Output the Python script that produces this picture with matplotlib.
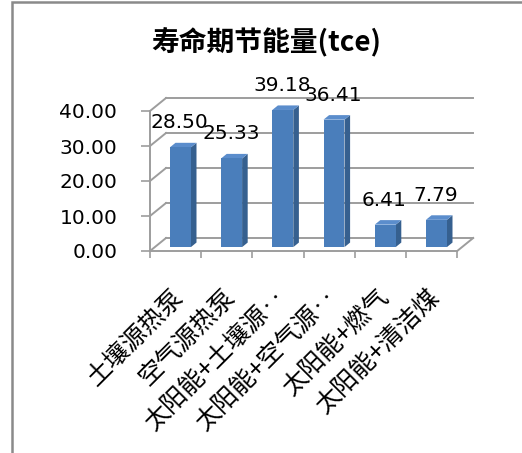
import matplotlib.pyplot as plt
from matplotlib.patches import Polygon, Rectangle

categories = ["土壤源热泵", "空气源热泵", "太阳能+土壤源‥", "太阳能+空气源‥",
              "太阳能+燃气", "太阳能+清洁煤"]
values = [28.50, 25.33, 39.18, 36.41, 6.41, 7.79]
yticks = [0, 10, 20, 30, 40]
title = "寿命期节能量(tce)"

CJK = ["Noto Sans CJK SC", "DejaVu Sans"]

W, H = 522, 453
# plot box in pixels: origin of the front floor edge, size of one category / one unit
X0, Y0 = 150, 251
CAT_PX, UNIT_PX = 51.2, 3.5
DX, DY = 16 / CAT_PX, 13 / UNIT_PX      # depth offset (front -> back wall) in data units
BAR_W = 0.41
D_FRONT, D_BACK = 0.30, 0.65            # bar depth span as a fraction of the floor depth

FRONT, SIDE, TOP = "#4A7EBB", "#36608F", "#5B8DCC"
GRID = "#9d9d9d"

fig = plt.figure(figsize=(W / 100, H / 100), dpi=100)
ax = fig.add_axes([X0 / W, (H - Y0) / H, 6.5 * CAT_PX / W, 46 * UNIT_PX / H])
ax.set_xlim(0, 6.5)
ax.set_ylim(0, 46)
ax.patch.set_visible(False)

# walls: diagonal lines on the side wall, gridlines on the back wall
n = len(categories)
for v in yticks:
    ax.plot([0, DX], [v, v + DY], color=GRID, lw=1.4, clip_on=False, zorder=1)
    ax.plot([DX, n + DX], [v + DY, v + DY], color=GRID, lw=1.4, clip_on=False, zorder=1)
ax.plot([n, n + DX], [0, DY], color=GRID, lw=1.4, clip_on=False, zorder=1)

for s in ["top", "right"]:
    ax.spines[s].set_visible(False)
ax.spines["left"].set_bounds(0, yticks[-1])
ax.spines["bottom"].set_bounds(0, n)
for s in ["left", "bottom"]:
    ax.spines[s].set_color(GRID)
    ax.spines[s].set_linewidth(1.4)

ax.set_yticks(yticks)
ax.set_yticklabels([f"{v:.2f}" for v in yticks])
ax.tick_params(axis="y", length=6.5, width=1.2, color=GRID, pad=17,
               labelsize=14.5, labelcolor="black")
ax.set_xticks(range(n + 1))
ax.set_xticklabels([])
ax.tick_params(axis="x", length=5, width=1.2, color=GRID)

# 3D-looking columns
ddx = (D_BACK - D_FRONT) * DX
ddy = (D_BACK - D_FRONT) * DY
for i, v in enumerate(values):
    x0 = i + 0.5 - BAR_W / 2 + D_FRONT * DX
    x1 = x0 + BAR_W
    yb = D_FRONT * DY
    yt = v + D_FRONT * DY
    ax.add_patch(Polygon([(x1, yb), (x1 + ddx, yb + ddy), (x1 + ddx, yt + ddy), (x1, yt)],
                         closed=True, facecolor=SIDE, edgecolor="none", zorder=3, clip_on=False))
    ax.add_patch(Polygon([(x0, yt), (x1, yt), (x1 + ddx, yt + ddy), (x0 + ddx, yt + ddy)],
                         closed=True, facecolor=TOP, edgecolor="none", zorder=3, clip_on=False))
    ax.add_patch(Rectangle((x0, yb), BAR_W, v, facecolor=FRONT, edgecolor="none",
                           zorder=3, clip_on=False))

for i, v in enumerate(values):
    ax.annotate(f"{v:.2f}", (i + 0.5 + 0.25 * DX, v + D_BACK * DY), xytext=(0, 20),
                textcoords="offset pixels", ha="center", va="center",
                fontsize=14.5, zorder=5, annotation_clip=False)

for i, c in enumerate(categories):
    ax.annotate(c, (i + 0.5, 0), xytext=(4, -42), textcoords="offset pixels",
                rotation=45, rotation_mode="anchor", ha="right", va="center",
                fontsize=18, family=CJK, annotation_clip=False)

fig.text(266 / W, 1 - 43 / H, title, ha="center", va="center", fontsize=20,
         fontweight="bold", family=CJK)

# chart area border
fig.add_artist(Rectangle((11.5 / W, -0.1), 1.2, 1.1 - 2 / H, transform=fig.transFigure,
                         facecolor="none", edgecolor="#8a8a8a", lw=1.8))

fig.savefig("out.png", dpi=100)
